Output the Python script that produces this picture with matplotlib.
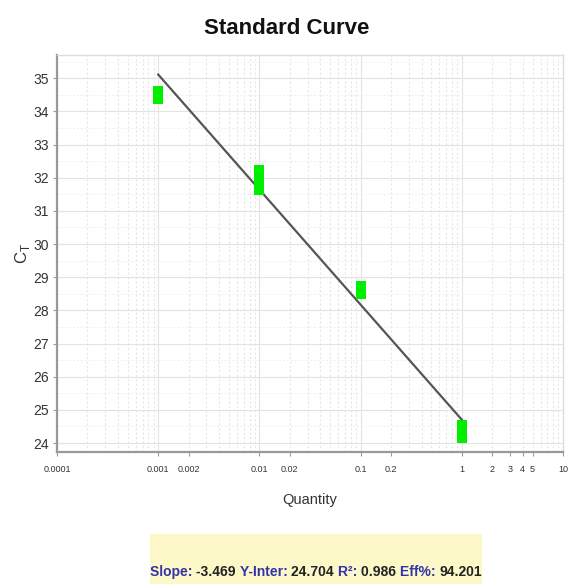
import matplotlib
matplotlib.use("Agg")
import matplotlib.pyplot as plt
import numpy as np
from matplotlib.offsetbox import TextArea, HPacker, AnchoredOffsetbox
from matplotlib.ticker import FixedLocator, NullFormatter
from matplotlib.patches import Rectangle

plt.rcParams['font.family'] = ['Liberation Sans', 'DejaVu Sans']

# Data
quantity = [0.001, 0.01, 0.01, 0.1, 1, 1]
ct = [34.5, 32.1, 31.75, 28.62, 24.41, 24.26]
slope = -3.469
y_inter = 24.704
r2 = 0.986
eff = 94.201
x_ticks = [0.0001, 0.001, 0.002, 0.01, 0.02, 0.1, 0.2, 1, 2, 3, 4, 5, 10]
x_tick_labels = ["0.0001", "0.001", "0.002", "0.01", "0.02", "0.1", "0.2", "1", "2", "3", "4", "5", "10"]
y_ticks = list(range(24, 36))

W, H = 571, 584
fig = plt.figure(figsize=(W/100, H/100), dpi=100)
ax = fig.add_axes([57/W, 1-452/H, (563-57)/W, (452-55)/H])

ax.set_xscale('log')
ax.set_xlim(1e-4, 10)
ax.set_ylim(23.73, 35.70)

# grid
minor_x = [m*10.0**e for e in range(-4, 1) for m in range(2, 10)]
ax.xaxis.set_minor_locator(FixedLocator(minor_x))
ax.xaxis.set_minor_formatter(NullFormatter())
ax.set_xticks(x_ticks)
ax.set_xticklabels(x_tick_labels, fontsize=6.5, color='#333333')
ax.set_yticks(y_ticks)
ax.set_yticklabels([str(v) for v in y_ticks], fontsize=10, color='#333333')
for v in [1e-4, 1e-3, 1e-2, 1e-1, 1, 10]:
    ax.axvline(v, color='#e3e3e3', lw=0.8, zorder=0)
for v in minor_x:
    ax.axvline(v, color='#e6e6e6', lw=0.8, ls=(0, (2, 2)), zorder=0)
for v in y_ticks:
    ax.axhline(v, color='#e3e3e3', lw=0.8, zorder=0)
    ax.axhline(v + 0.5, color='#efefef', lw=0.7, ls=(0, (2, 2)), zorder=0)
ax.tick_params(axis='x', which='major', length=3, color='#999999', pad=6)
ax.tick_params(axis='x', which='minor', length=0)
ax.tick_params(axis='y', length=3, color='#999999', pad=3)

for s in ['left', 'bottom']:
    ax.spines[s].set_color('#999999')
    ax.spines[s].set_linewidth(1.6)
for s in ['top', 'right']:
    ax.spines[s].set_color('#dddddd')
    ax.spines[s].set_linewidth(1.0)

# fit line
xs = np.array([min(quantity), max(quantity)])
ax.plot(xs, slope*np.log10(xs) + y_inter, color='#555555', lw=1.6, zorder=3)

# markers
rect = [(-0.54, -1), (0.54, -1), (0.54, 1), (-0.54, 1), (-0.54, -1)]
ax.plot(quantity, ct, ls='none', marker=rect, ms=13.5, color='#00ee00',
        markeredgewidth=0, zorder=4)

ax.set_xlabel('Quantity', fontsize=10.5, color='#333333', labelpad=14)
ax.set_ylabel(r'C$_\mathregular{T}$', fontsize=12, color='#333333', labelpad=1)

fig.text(287/W, 1-28/H, 'Standard Curve', ha='center', va='center',
         fontsize=16, fontweight='bold', color='#111111')

# stats box
fig.patches.append(Rectangle((150/W, 0), (482-150)/W, 50/H, transform=fig.transFigure,
                             facecolor='#fdf8c8', edgecolor='none', zorder=0))
blue = '#3333aa'
dark = '#222222'
parts = [("Slope: ", blue), (f"{slope:.3f} ", dark), ("Y-Inter: ", blue), (f"{y_inter:.3f} ", dark),
         ("R²: ", blue), (f"{r2:.3f} ", dark), ("Eff%: ", blue), (f"{eff:.3f}", dark)]
tas = [TextArea(t, textprops=dict(color=c, fontsize=10, fontweight='bold')) for t, c in parts]
box = HPacker(children=tas, align='baseline', pad=0, sep=0)
ab = AnchoredOffsetbox(loc='center', child=box, frameon=False,
                       bbox_to_anchor=(316/W, 1-572/H), bbox_transform=fig.transFigure, pad=0, borderpad=0)
fig.add_artist(ab)

fig.savefig('out.png', dpi=100)
